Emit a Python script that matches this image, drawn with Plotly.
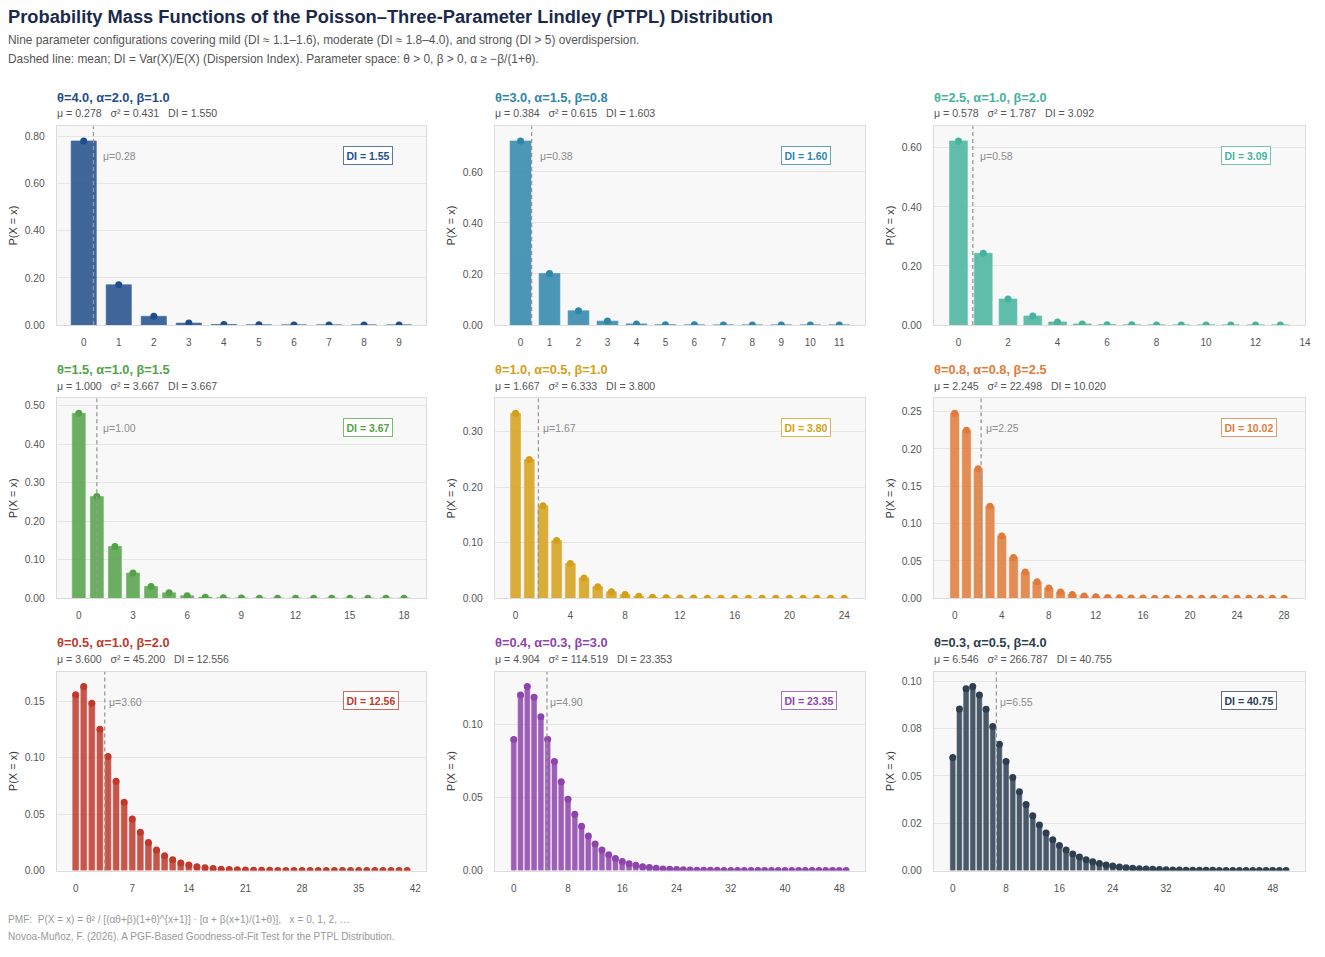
import plotly.graph_objects as go

W, H = 1325, 957

# ---------------- data ----------------
panel_titles = ["θ=4.0, α=2.0, β=1.0", "θ=3.0, α=1.5, β=0.8", "θ=2.5, α=1.0, β=2.0",
                "θ=1.5, α=1.0, β=1.5", "θ=1.0, α=0.5, β=1.0", "θ=0.8, α=0.8, β=2.5",
                "θ=0.5, α=1.0, β=2.0", "θ=0.4, α=0.3, β=3.0", "θ=0.3, α=0.5, β=4.0"]
means = [0.2778, 0.3836, 0.5782, 1.0, 1.6667, 2.2452, 3.6, 4.9038, 6.5458]
variances = [0.431, 0.615, 1.787, 3.667, 6.333, 22.498, 45.200, 114.519, 266.787]
dis = [1.550, 1.603, 3.092, 3.667, 3.800, 10.020, 12.556, 23.353, 40.7549]

pmf_1 = [0.7822, 0.17067, 0.03698, 0.007964, 0.001707, 0.000364, 0.0000774, 0.0000164, 0.0000035, 0.0000007]
pmf_2 = [0.7217, 0.20165, 0.05572, 0.015257, 0.004146, 0.001119, 0.000301, 0.0000803, 0.0000214, 0.0000057,
         0.0000015, 0.0000004]
pmf_3 = [0.62358, 0.24295, 0.08793, 0.030411, 0.0102, 0.003346, 0.001079, 0.000344, 0.000108, 0.0000338,
         0.0000105, 0.0000032, 0.000001, 0.0000003]
pmf_4 = [0.48, 0.264, 0.1344, 0.06528, 0.03072, 0.014131, 0.00639, 0.002851, 0.001258, 0.00055,
         0.000239, 0.000103, 0.0000443, 0.0000189, 0.0000081, 0.0000034, 0.0000014, 0.0000006, 0.0000003]
pmf_5 = [0.33333, 0.25, 0.16667, 0.10417, 0.0625, 0.036458, 0.020833, 0.011719, 0.00651, 0.003581,
         0.001953, 0.001058, 0.00057, 0.000305, 0.000163, 0.0000865, 0.0000458, 0.0000242, 0.0000127, 0.0000067,
         0.0000035, 0.0000018, 0.00000095, 0.0000005, 0.00000026]
pmf_6 = [0.24786, 0.22507, 0.17358, 0.1234, 0.083537, 0.054732, 0.035031, 0.02203, 0.013666, 0.008386,
         0.005099, 0.003078, 0.001846, 0.001101, 0.000654, 0.000386, 0.000228, 0.000134, 0.0000783, 0.0000457,
         0.0000266, 0.0000155, 0.000009, 0.0000052, 0.000003, 0.0000017, 0.000001, 0.00000057, 0.00000033]
pmf_7 = [0.15556, 0.16296, 0.14815, 0.1251, 0.10096, 0.079012, 0.060479, 0.045521, 0.033816, 0.024857,
         0.018112, 0.013102, 0.00942, 0.006737, 0.004796, 0.0034, 0.002402, 0.001692, 0.001188, 0.000832,
         0.000581, 0.000405, 0.000282, 0.000196, 0.000136, 0.0000942, 0.0000651, 0.000045, 0.000031, 0.0000214,
         0.0000147, 0.0000101, 0.000007, 0.0000048, 0.0000033, 0.0000022, 0.0000015, 0.0000011, 0.0000007, 0.0000005,
         0.0000003, 0.0000002]
pmf_8 = [0.089482, 0.119982, 0.125749, 0.118426, 0.105022, 0.08961, 0.074433, 0.060612, 0.048613, 0.038523,
         0.03023, 0.023532, 0.018192, 0.013984, 0.010695, 0.008144, 0.006177, 0.00467, 0.003519, 0.002645,
         0.001983, 0.001484, 0.001108, 0.000825, 0.000614, 0.000456, 0.000338, 0.00025, 0.000185, 0.000137,
         0.000101, 0.0000745, 0.0000548, 0.0000404, 0.0000297, 0.0000218, 0.000016, 0.0000117, 0.0000086, 0.0000063,
         0.0000046, 0.0000034, 0.0000025, 0.0000018, 0.0000013, 0.00000096, 0.0000007, 0.00000051, 0.00000037, 0.00000027]
pmf_9 = [0.059671, 0.085385, 0.096053, 0.097251, 0.09278, 0.085194, 0.076168, 0.066771, 0.057655, 0.04919,
         0.041562, 0.034834, 0.028999, 0.024002, 0.019767, 0.016208, 0.013239, 0.010777, 0.008747, 0.007079,
         0.005716, 0.004605, 0.003702, 0.00297, 0.00238, 0.001903, 0.00152, 0.001212, 0.000966, 0.000768,
         0.000611, 0.000485, 0.000384, 0.000305, 0.000241, 0.000191, 0.000151, 0.000119, 0.0000941, 0.0000742,
         0.0000585, 0.0000461, 0.0000363, 0.0000286, 0.0000225, 0.0000177, 0.0000139, 0.0000109, 0.0000086, 0.0000067,
         0.0000053]
pmfs = [pmf_1, pmf_2, pmf_3, pmf_4, pmf_5, pmf_6, pmf_7, pmf_8, pmf_9]

# y tick labels per panel (as printed in the reference)
y_tick_labels = [
    ["0.00", "0.20", "0.40", "0.60", "0.80"],
    ["0.00", "0.20", "0.40", "0.60"],
    ["0.00", "0.20", "0.40", "0.60"],
    ["0.00", "0.10", "0.20", "0.30", "0.40", "0.50"],
    ["0.00", "0.10", "0.20", "0.30"],
    ["0.00", "0.05", "0.10", "0.15", "0.20", "0.25"],
    ["0.00", "0.05", "0.10", "0.15"],
    ["0.00", "0.05", "0.10"],
    ["0.00", "0.02", "0.05", "0.08", "0.10"],
]

# ---------------- styles / layout ----------------
colors = ["#1f4e8c", "#2e86ab", "#45b39d", "#53a248", "#d4a017", "#e07b39", "#c0392b", "#8e44ad", "#2c3e50"]
border_colors = ["rgba(31,78,140,0.75)", "rgba(46,134,171,0.75)", "rgba(69,179,157,0.75)",
                 "rgba(83,162,72,0.75)", "rgba(212,160,23,0.75)", "rgba(224,123,57,0.75)",
                 "rgba(192,57,43,0.75)", "rgba(142,68,173,0.75)", "rgba(44,62,80,0.75)"]
x_dtick = [1, 1, 2, 3, 4, 4, 7, 8, 8]
y_dtick = [0.2, 0.2, 0.2, 0.1, 0.1, 0.05, 0.05, 0.05, 0.025]
x_pad = [0.77, 0.89, 1.0, 1.22, 1.52, 1.78, 2.34, 2.8, 2.85]
col_px = [(57, 428), (497, 869), (938, 1311)]
row_px = [(127, 327), (401, 602), (676, 876)]

FONT = "Arial, 'Liberation Sans', Helvetica, sans-serif"

fig = go.Figure()
layout = {}
annotations = []
shapes = []

for i in range(9):
    r, c = divmod(i, 3)
    n = i + 1
    xa = "x" if n == 1 else f"x{n}"
    ya = "y" if n == 1 else f"y{n}"
    xs = list(range(len(pmfs[i])))
    col = colors[i]
    fig.add_trace(go.Bar(x=xs, y=pmfs[i], width=0.72, xaxis=xa, yaxis=ya, showlegend=False,
                         marker=dict(color=col, opacity=0.85, line=dict(color=col, width=0.6)),
                         hovertemplate="x=%{x}<br>P=%{y:.4f}<extra></extra>"))
    fig.add_trace(go.Scatter(x=xs, y=pmfs[i], mode="markers", xaxis=xa, yaxis=ya, showlegend=False,
                             marker=dict(color=col, size=7), hoverinfo="skip"))

    x0, x1 = col_px[c]
    top, bot = row_px[r]
    ymax = max(pmfs[i]) * 1.08
    labels = y_tick_labels[i]
    layout[f"xaxis{'' if n == 1 else n}"] = dict(
        domain=[x0 / W, x1 / W], anchor=ya,
        range=[-x_pad[i], len(xs) - 1 + x_pad[i]],
        tickmode="linear", tick0=0, dtick=x_dtick[i],
        showgrid=False, zeroline=False,
        showline=True, mirror=True, linecolor="#dcdcdc", linewidth=1,
        ticks="outside", ticklen=8, tickcolor="rgba(0,0,0,0)",
        tickfont=dict(size=10, color="#555", family=FONT))
    layout[f"yaxis{'' if n == 1 else n}"] = dict(
        domain=[1 - bot / H, 1 - top / H], anchor=xa,
        range=[0, ymax], tickmode="array",
        tickvals=[k * y_dtick[i] for k in range(len(labels))], ticktext=labels,
        showgrid=True, gridcolor="#e6e6e6", gridwidth=1, zeroline=False,
        showline=True, mirror=True, linecolor="#dcdcdc", linewidth=1,
        ticks="outside", ticklen=9, tickcolor="rgba(0,0,0,0)",
        tickfont=dict(size=10.3, color="#555", family=FONT),
        title=dict(text="P(X = x)", font=dict(size=11, color="#333", family=FONT), standoff=4))

    # mean line
    shapes.append(dict(type="line", xref=xa, yref=f"{ya} domain", x0=means[i], x1=means[i], y0=0, y1=1,
                       line=dict(color="#999999", width=1.3, dash="4px,3px"), layer="above"))
    annotations.append(dict(xref=xa, yref=f"{ya} domain", x=means[i] + 0.22, y=0.85,
                            text=f"μ={means[i]:.2f}", showarrow=False, xanchor="left", yanchor="middle",
                            font=dict(size=10.5, color="#8c8c8c", family=FONT)))
    # DI box
    annotations.append(dict(xref=f"{xa} domain", yref=f"{ya} domain", x=0.774, y=0.855,
                            text=f"<b>DI = {dis[i]:.2f}</b>", showarrow=False, xanchor="left", yanchor="middle",
                            font=dict(size=10.5, color=col, family=FONT),
                            bgcolor="white", bordercolor=border_colors[i], borderwidth=1, borderpad=2.5))
    # panel titles
    annotations.append(dict(xref="paper", yref="paper", x=(x0 - 2) / W, y=1 - (top - 29) / H,
                            text=f"<b>{panel_titles[i]}</b>", showarrow=False, xanchor="left", yanchor="middle",
                            font=dict(size=12.8, color=col, family=FONT)))
    annotations.append(dict(xref="paper", yref="paper", x=(x0 - 2) / W, y=1 - (top - 13) / H,
                            text=f"μ = {means[i]:.3f}   σ² = {variances[i]:.3f}   DI = {dis[i]:.3f}",
                            showarrow=False, xanchor="left", yanchor="middle",
                            font=dict(size=10.6, color="#555", family=FONT)))

# header and footer
header = [
    ("<b>Probability Mass Functions of the Poisson–Three-Parameter Lindley (PTPL) Distribution</b>", 17, 18.3, "#1b2a4a"),
    ("Nine parameter configurations covering mild (DI ≈ 1.1–1.6), moderate (DI ≈ 1.8–4.0), and strong (DI > 5) overdispersion.", 40, 11.9, "#555"),
    ("Dashed line: mean; DI = Var(X)/E(X) (Dispersion Index). Parameter space: θ > 0, β > 0, α ≥ −β/(1+θ).", 59, 11.9, "#555"),
    ("PMF:  P(X = x) = θ² / [(αθ+β)(1+θ)^{x+1}] · [α + β(x+1)/(1+θ)],   x = 0, 1, 2, …", 925, 10.1, "#999"),
    ("Novoa-Muñoz, F. (2026). A PGF-Based Goodness-of-Fit Test for the PTPL Distribution.", 942, 10.1, "#999"),
]
for text, ypx, size, colr in header:
    annotations.append(dict(xref="paper", yref="paper", x=6 / W, y=1 - ypx / H, text=text, showarrow=False,
                            xanchor="left", yanchor="middle", font=dict(size=size, color=colr, family=FONT)))

fig.update_layout(
    width=W, height=H, autosize=False,
    margin=dict(l=0, r=0, t=0, b=0),
    paper_bgcolor="white", plot_bgcolor="#f8f8f8",
    font=dict(family=FONT, color="#444"),
    bargap=0.2, showlegend=False,
    annotations=annotations, shapes=shapes,
    **layout)

fig.write_html("out.html")
